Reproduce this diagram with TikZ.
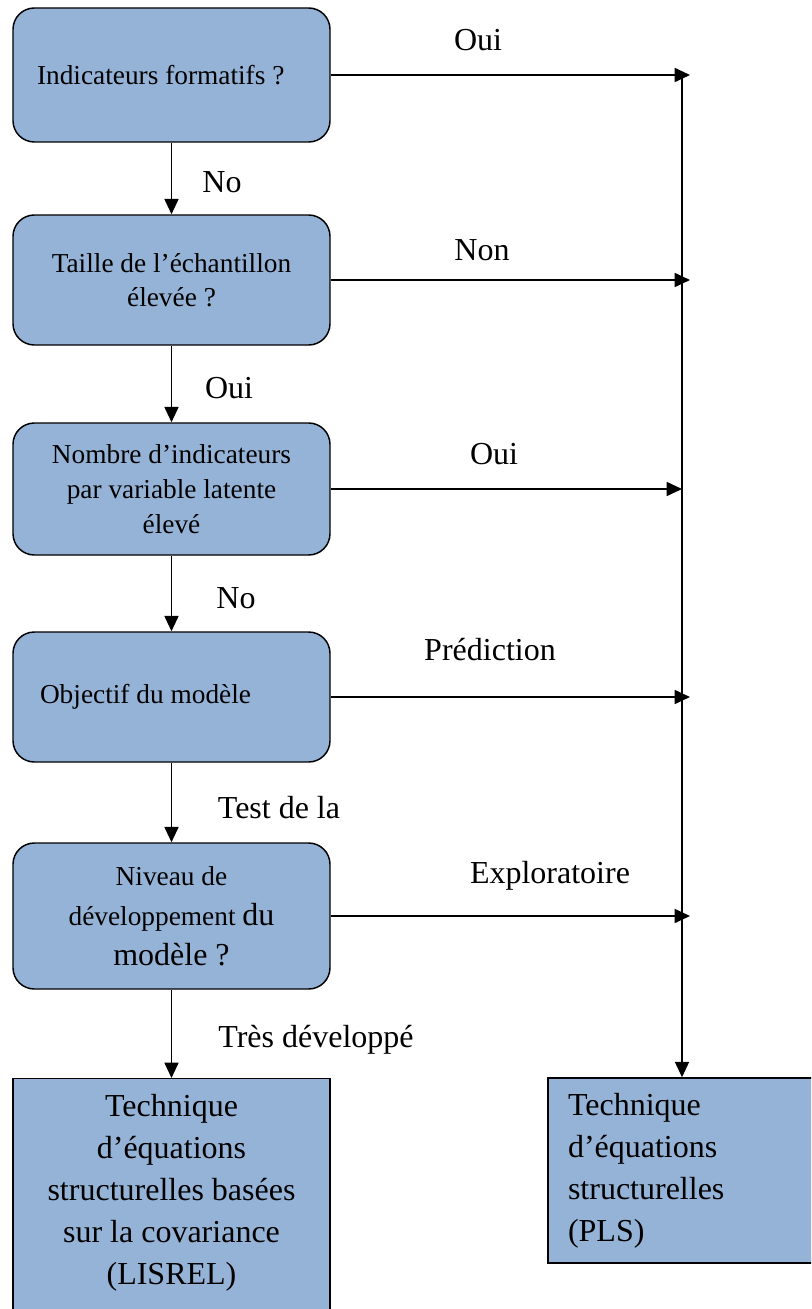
\documentclass[tikz,border=0pt]{standalone}
\usepackage{fontspec}
\setmainfont{Liberation Serif}
\usetikzlibrary{arrows.meta}
\definecolor{boxblue}{HTML}{95B3D7}
\newcommand{\bxfont}{\fontsize{20.5}{25.5}\selectfont}
\newcommand{\bigfont}{\fontsize{24}{31.5}\selectfont}
\begin{document}
\begin{tikzpicture}[x=0.75pt,y=-0.75pt,
  decision/.style={draw=black, fill=boxblue, rounded corners=16pt, line width=1.1pt,
    minimum width=237.75pt, align=center, font=\bxfont, inner sep=0pt},
  result/.style={draw=black, fill=boxblue, line width=1.1pt, minimum width=237.75pt,
    inner sep=0pt},
  lbl/.style={font=\bigfont, inner sep=0pt},
  flow/.style={-{Triangle[length=11.5pt,width=10.5pt]}, line width=1.3pt}]

\clip (0,0) rectangle (811,1309);

% decision boxes
\node[decision, minimum height=100.5pt, text width=201.75pt, align=flush left] (b1) at (171.5,75)
  {Indicateurs formatifs ?};
\node[decision, minimum height=97.5pt] (b2) at (171.5,280)
  {Taille de l’échantillon\\élevée ?};
\node[decision, minimum height=99pt, font=\fontsize{20.5}{26.25}\selectfont] (b3) at (171.5,489)
  {Nombre d’indicateurs\\par variable latente\\élevé};
\node[decision, minimum height=97.5pt, text width=197.25pt, align=flush left] (b4) at (171.5,697)
  {Objectif du modèle};
\node[decision, minimum height=109.5pt, font=\fontsize{20.5}{30}\selectfont] (b5) at (171.5,916)
  {Niveau de\\développement {\bigfont du}\\{\bigfont modèle ?}};

% outcome boxes
\node[result, anchor=north, minimum height=225pt] (lisrel) at (171.5,1078) {};
\node[align=center, font=\bigfont, inner sep=0pt] (lisreltext) at (171.5,1193)
  {Technique\\d’équations\\structurelles basées\\sur la covariance\\(LISREL)};
\node[result, minimum width=211.5pt, minimum height=138.75pt, text width=181.5pt,
  align=flush left, font=\bigfont] (pls) at (689,1170.5)
  {Technique\\d’équations\\structurelles\\(PLS)};

% main chain
\draw[flow] (b1.south) -- (b2.north);
\draw[flow] (b2.south) -- (b3.north);
\draw[flow] (b3.south) -- (b4.north);
\draw[flow] (b4.south) -- (b5.north);
\draw[flow] (b5.south) -- (lisrel.north);

% branches towards the PLS bus
\coordinate (bus) at (682,75);
\coordinate (tips) at (690,0);
\draw[flow] (b1.east) -- (b1.east -| tips);
\draw[flow] (b2.east) -- (b2.east -| tips);
\draw[flow] (b3.east) -- (b3.east -| bus);
\draw[flow] (b4.east) -- (b4.east -| tips);
\draw[flow] (b5.east) -- (b5.east -| tips);
\draw[-{Triangle[length=11.5pt,width=10.5pt]}, line width=1.1pt] (bus) -- (bus |- pls.north);

% branch labels
\node[lbl] (l1) at (478,40) {Oui};
\node[lbl] (l2) at (222,182) {No};
\node[lbl] (l3) at (482,250) {Non};
\node[lbl] (l4) at (229,388) {Oui};
\node[lbl] (l5) at (494,454) {Oui};
\node[lbl] (l6) at (236,598) {No};
\node[lbl] (l7) at (490,650) {Prédiction};
\node[lbl] (l8) at (279,808) {Test de la};
\node[lbl] (l9) at (550,876) {Exploratoire};
\node[lbl] (l10) at (316,1040) {Très développé};
\end{tikzpicture}
\end{document}
